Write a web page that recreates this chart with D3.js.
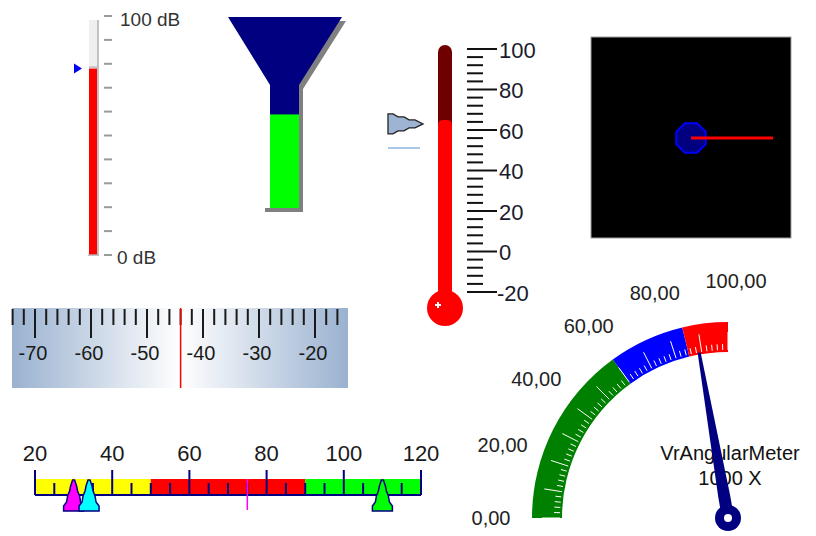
<!DOCTYPE html>
<html><head><meta charset="utf-8">
<script src="https://cdn.jsdelivr.net/npm/d3@7"></script>
<style>body{margin:0;background:#fff}svg{display:block}text{font-family:"Liberation Sans",Arial,sans-serif}</style>
</head><body><svg id="c" width="816" height="536"></svg>
<script>
// ---------- data ----------
const levelValue = [78];
const levelTicks = d3.range(0, 101, 10);
const levelLabels = [{v: 100, t: "100 dB"}, {v: 0, t: "0 dB"}];
const funnelValue = [49];
const thermoValue = [65];
const thermoPointer = [63];
const thermoTicks = d3.range(-20, 101, 4);
const thermoLabels = [-20, 0, 20, 40, 60, 80, 100];
const rulerTicks = d3.range(-74, -15, 2);
const rulerLabels = [-70, -60, -50, -40, -30, -20];
const rulerValue = [-44];
const linearLabels = [20, 40, 60, 80, 100, 120];
const linearTicks = d3.range(20, 121, 5);
const linearBandFrom = [20, 50, 90];
const linearBandTo = [50, 90, 120];
const linearBandColors = ["#ffff00", "#ff0000", "#00ff00"];
const linearMarker = [75];
const linearPointers = [30, 34, 110];
const linearPointerColors = ["#ff00ff", "#00ffff", "#00ff00"];
const angBandFrom = [0, 60, 85];
const angBandTo = [60, 85, 100];
const angBandColors = ["#008000", "#0000ff", "#ff0000"];
const angLabels = [0, 20, 40, 60, 80, 100];
const angTicks = d3.range(0, 101, 2);
const angValue = [89];
const angCaption = ["VrAngularMeter", "1000 X"];
const scopeAngle = [0];
const scopeMagnitude = [0.82];

const svg = d3.select("#c");
const font = '"Liberation Sans", Arial, sans-serif';

// ---------- level meter ----------
(function(){
  const y = d3.scaleLinear([0, 100], [255, 16]);
  const g = svg.append("g");
  g.append("rect").attr("x", 89).attr("y", y(100) + 4).attr("width", 9).attr("height", y(0) - y(100) - 4).attr("fill", "#efefef");
  g.selectAll("rect.v").data(levelValue).join("rect").attr("class", "v")
    .attr("x", 89).attr("width", 8).attr("y", d => y(d)).attr("height", d => y(0) - y(d)).attr("fill", "#ff0000");
  g.selectAll("line.top").data(levelValue).join("line").attr("class", "top")
    .attr("x1", 89).attr("x2", 98).attr("y1", d => y(d) - 1.5).attr("y2", d => y(d) - 1.5).attr("stroke", "#bdbdbd").attr("stroke-width", 1.5);
  g.append("line").attr("x1", 98).attr("x2", 98).attr("y1", y(100) + 4).attr("y2", y(0)).attr("stroke", "#b0b0b0").attr("stroke-width", 1.5);
  g.append("line").attr("x1", 88).attr("x2", 99).attr("y1", y(0)).attr("y2", y(0)).attr("stroke", "#b0b0b0").attr("stroke-width", 1.5);
  g.selectAll("line.t").data(levelTicks).join("line").attr("class", "t")
    .attr("x1", 104).attr("x2", 112).attr("y1", d => y(d)).attr("y2", d => y(d)).attr("stroke", "#9a9a9a").attr("stroke-width", 2);
  g.selectAll("text").data(levelLabels).join("text")
    .attr("x", (d, i) => i === 0 ? 120 : 117).attr("y", d => y(d.v) + (d.v === 100 ? 3 : 2)).attr("dominant-baseline", "central")
    .attr("font-size", 19).attr("fill", "#333").text(d => d.t);
  g.selectAll("path.m").data(levelValue).join("path").attr("class", "m")
    .attr("d", d => `M74,${y(d) - 5}L82,${y(d)}L74,${y(d) + 5}Z`).attr("fill", "#0000ff");
})();

// ---------- funnel ----------
(function(){
  const y = d3.scaleLinear([0, 100], [208, 17]);
  const g = svg.append("g");
  const shape = [[228,17],[342,17],[299,85],[299,208],[270,208],[270,85]];
  const sh = shape.map(p => [p[0] + 4, p[1] + 4]);
  g.append("path").attr("d", "M" + sh.join("L") + "Z").attr("fill", "#808080");
  g.append("rect").attr("x", 265).attr("y", 208).attr("width", 38).attr("height", 4).attr("fill", "#808080");
  g.append("path").attr("d", "M" + shape.join("L") + "Z").attr("fill", "#000080");
  g.selectAll("rect.v").data(funnelValue).join("rect").attr("class", "v")
    .attr("x", 270).attr("width", 29).attr("y", d => y(d)).attr("height", d => y(0) - y(d)).attr("fill", "#00ff00");
})();

// ---------- thermometer ----------
(function(){
  const y = d3.scaleLinear([-20, 100], [292, 49]);
  const g = svg.append("g");
  g.append("rect").attr("x", 438).attr("y", y(100) - 4).attr("width", 14).attr("height", 300 - y(100)).attr("rx", 7).attr("fill", "#6e0000");
  g.selectAll("rect.v").data(thermoValue).join("rect").attr("class", "v")
    .attr("x", 438).attr("width", 14).attr("y", d => y(d)).attr("height", d => 300 - y(d)).attr("rx", 5).attr("fill", "#ff0000");
  g.append("circle").attr("cx", 445).attr("cy", 308).attr("r", 18).attr("fill", "#ff0000");
  g.append("path").attr("d", "M435,305h6M438,302v6").attr("stroke", "#fff").attr("stroke-width", 2);
  g.selectAll("line.t").data(thermoTicks).join("line").attr("class", "t")
    .attr("x1", 467).attr("x2", d => d % 20 === 0 ? 497 : 483)
    .attr("y1", d => y(d)).attr("y2", d => y(d)).attr("stroke", "#111").attr("stroke-width", 2);
  g.selectAll("text").data(thermoLabels).join("text")
    .attr("x", d => d < 0 ? 497 : 499).attr("y", d => y(d) + 1).attr("dominant-baseline", "central")
    .attr("font-size", 22).attr("fill", "#1a1a2e").text(d => d);
  g.selectAll("path.p").data(thermoPointer).join("path").attr("class", "p")
    .attr("d", d => { const c = y(d);
      return `M388,${c-10}L393,${c-10}L398,${c-7}L404,${c-7}L409,${c-4}L415,${c-4}L423,${c}L415,${c+4}L409,${c+4}L404,${c+7}L398,${c+7}L393,${c+10}L388,${c+10}Z`; })
    .attr("fill", "#9db4d2").attr("stroke", "#222").attr("stroke-width", 1.3);
  g.append("line").attr("x1", 388).attr("x2", 420).attr("y1", 148).attr("y2", 148).attr("stroke", "#a8c8ea").attr("stroke-width", 2);
})();

// ---------- ruler ----------
(function(){
  const x = d3.scaleLinear([-70, -20], [35, 315]);
  const defs = svg.append("defs");
  const gr = defs.append("linearGradient").attr("id", "rg").attr("x1", 0).attr("x2", 1).attr("y1", 0).attr("y2", 0);
  gr.append("stop").attr("offset", 0).attr("stop-color", "#9ab2d0");
  gr.append("stop").attr("offset", 0.5).attr("stop-color", "#ffffff");
  gr.append("stop").attr("offset", 1).attr("stop-color", "#9ab2d0");
  const g = svg.append("g");
  g.append("rect").attr("x", 12).attr("y", 308).attr("width", 336).attr("height", 80).attr("fill", "url(#rg)");
  g.selectAll("line.t").data(rulerTicks).join("line").attr("class", "t")
    .attr("x1", d => x(d)).attr("x2", d => x(d)).attr("y1", 309).attr("y2", d => d % 10 === 0 ? 338 : 325)
    .attr("stroke", "#1a1a1a").attr("stroke-width", 2);
  g.selectAll("text").data(rulerLabels).join("text")
    .attr("x", d => x(d) - 2).attr("y", 353).attr("text-anchor", "middle").attr("dominant-baseline", "central")
    .attr("font-size", 20).attr("fill", "#1a1a1a").text(d => d);
  g.selectAll("line.v").data(rulerValue).join("line").attr("class", "v")
    .attr("x1", d => x(d)).attr("x2", d => x(d)).attr("y1", 308).attr("y2", 388).attr("stroke", "#ff0000").attr("stroke-width", 1.5);
})();

// ---------- linear gauge ----------
(function(){
  const x = d3.scaleLinear([20, 120], [35, 421]);
  const g = svg.append("g");
  g.selectAll("rect.b").data(linearBandFrom).join("rect").attr("class", "b")
    .attr("x", d => x(d)).attr("width", (d, i) => x(linearBandTo[i]) - x(d)).attr("y", 479).attr("height", 16)
    .attr("fill", (d, i) => linearBandColors[i]);
  g.selectAll("line.t").data(linearTicks).join("line").attr("class", "t")
    .attr("x1", d => x(d)).attr("x2", d => x(d)).attr("y1", d => d % 20 === 0 ? 470 : 483).attr("y2", 495)
    .attr("stroke", "#000080").attr("stroke-width", 2);
  g.append("line").attr("x1", x(20)).attr("x2", x(120)).attr("y1", 495).attr("y2", 495).attr("stroke", "#000080").attr("stroke-width", 2);
  g.selectAll("text").data(linearLabels).join("text")
    .attr("x", d => x(d)).attr("y", 453).attr("text-anchor", "middle").attr("dominant-baseline", "central")
    .attr("font-size", 22).attr("fill", "#1a1a1a").text(d => d);
  g.selectAll("line.m").data(linearMarker).join("line").attr("class", "m")
    .attr("x1", d => x(d)).attr("x2", d => x(d)).attr("y1", 479).attr("y2", 510).attr("stroke", "#ff00ff").attr("stroke-width", 1.5);
  g.selectAll("path.p").data(linearPointers).join("path").attr("class", "p")
    .attr("d", d => { const c = x(d);
      return `M${c-1},480L${c+1},480L${c+3},486L${c+4},491L${c+6},496L${c+7},502L${c+10},506L${c+10},511L${c-10},511L${c-10},506L${c-7},502L${c-6},496L${c-4},491L${c-3},486Z`; })
    .attr("fill", (d, i) => linearPointerColors[i]).attr("stroke", "#000080").attr("stroke-width", 1.5);
})();

// ---------- angular meter ----------
(function(){
  const cx = 728, cy = 518, rIn = 166, rOut = 196, rLab = 237;
  const a = d3.scaleLinear([0, 100], [-Math.PI / 2, 0]);
  const g = svg.append("g").attr("transform", `translate(${cx},${cy})`);
  const arc = d3.arc().innerRadius(rIn).outerRadius(rOut);
  g.selectAll("path.b").data(angBandFrom).join("path").attr("class", "b")
    .attr("d", (d, i) => arc({startAngle: a(d), endAngle: a(angBandTo[i])}))
    .attr("fill", (d, i) => angBandColors[i]);
  g.selectAll("line.t").data(angTicks).join("line").attr("class", "t")
    .attr("x1", d => Math.sin(a(d)) * (rIn + 2)).attr("y1", d => -Math.cos(a(d)) * (rIn + 2))
    .attr("x2", d => Math.sin(a(d)) * (rIn + (d % 10 === 0 ? 20 : 8))).attr("y2", d => -Math.cos(a(d)) * (rIn + (d % 10 === 0 ? 20 : 8)))
    .attr("stroke", "#ffffff").attr("stroke-width", 1);
  g.selectAll("text.l").data(angLabels).join("text").attr("class", "l")
    .attr("x", d => Math.sin(a(d)) * rLab + (d === 100 ? 8 : 0)).attr("y", d => -Math.cos(a(d)) * rLab)
    .attr("text-anchor", "middle").attr("dominant-baseline", "central")
    .attr("font-size", 20).attr("fill", "#222").text(d => d3.format(".2f")(d).replace(".", ","));
  g.selectAll("text.c").data(angCaption).join("text").attr("class", "c")
    .attr("x", 2).attr("y", (d, i) => -65 + i * 25).attr("text-anchor", "middle").attr("dominant-baseline", "central")
    .attr("font-size", 20).attr("fill", "#111").text(d => d);
  const deg = d3.scaleLinear([0, 100], [-90, 0]);
  g.selectAll("path.n").data(angValue).join("path").attr("class", "n")
    .attr("transform", d => `rotate(${deg(d)})`)
    .attr("d", "M-6,0L-6,-22L-1.5,-168L1.5,-168L6,-22L6,0Z").attr("fill", "#000080");
  g.append("circle").attr("r", 13).attr("fill", "#000080");
  g.append("circle").attr("r", 4).attr("fill", "#ffffff");
})();

// ---------- scope ----------
(function(){
  const cx = 691, cy = 138;
  const len = d3.scaleLinear([0, 1], [0, 100]);
  const g = svg.append("g");
  g.append("rect").attr("x", 591).attr("y", 37).attr("width", 200).attr("height", 201).attr("fill", "#000").attr("stroke", "#a0a0a0").attr("stroke-width", 1);
  const oct = d3.range(8).map(i => [cx + 16 * Math.cos((i + 0.5) * Math.PI / 4), cy + 16 * Math.sin((i + 0.5) * Math.PI / 4)]);
  g.append("path").attr("d", "M" + oct.join("L") + "Z").attr("fill", "#000080").attr("stroke", "#0000ff").attr("stroke-width", 2);
  g.selectAll("line.h").data(scopeAngle).join("line").attr("class", "h")
    .attr("x1", cx).attr("y1", cy)
    .attr("x2", (d, i) => cx + len(scopeMagnitude[i]) * Math.cos(d * Math.PI / 180))
    .attr("y2", (d, i) => cy - len(scopeMagnitude[i]) * Math.sin(d * Math.PI / 180))
    .attr("stroke", "#ff0000").attr("stroke-width", 3);
})();
</script></body></html>
